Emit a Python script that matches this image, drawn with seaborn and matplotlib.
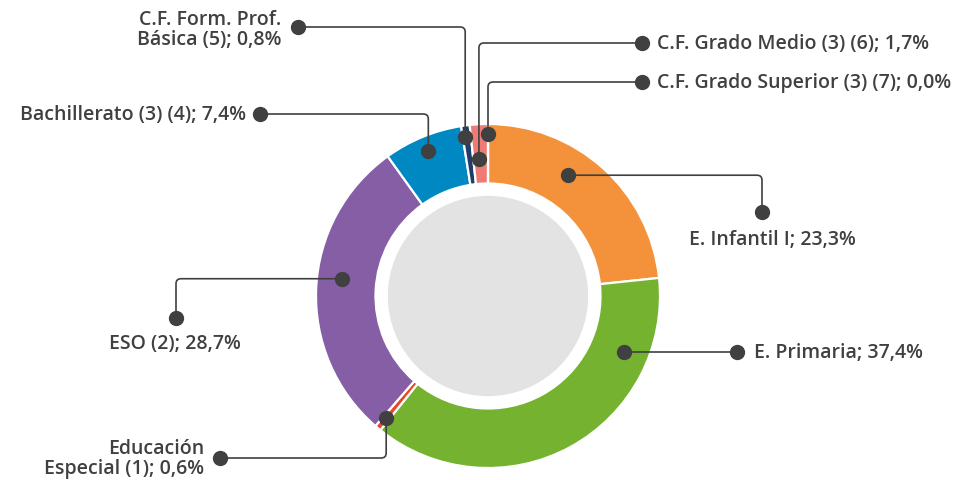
import numpy as np
import matplotlib
matplotlib.use("Agg")
import matplotlib.pyplot as plt
from matplotlib.path import Path
from matplotlib.patches import PathPatch, Circle
import seaborn as sns

# data, clockwise from the top
categories = ["E. Infantil I", "E. Primaria", "Educación\nEspecial (1)", "ESO (2)",
              "Bachillerato (3) (4)", "C.F. Form. Prof.\nBásica (5)",
              "C.F. Grado Medio (3) (6)", "C.F. Grado Superior (3) (7)"]
shares = [23.3, 37.4, 0.6, 28.7, 7.4, 0.8, 1.7, 0.0]
colors = ["#f3923b", "#74b230", "#e8472b", "#865ea5",
          "#0088c2", "#1f3d6b", "#ef7a76", "#ffffff"]

# leader layout (pixel space, y downwards)
anchor_frac = [0.40, 0.21, 0.5, 0.54, 0.5, 0.3, 0.38, 0.5]
anchor_r = [145, 147, 159, 147, 157, 161, 137, 162]
end_pts = [(762, 213), (737, None), (220, 459), (176, 319),
           (260, 115), (298, 28), (642, 44), (642, 83)]
first_leg = ["h", "h", "v", "h", "v", "v", "v", "v"]
label_off = [(10, 27, "center"), (17, 0, "left"), (-16, 0, "right"), (-1, 25, "center"),
             (-14, 0, "right"), (-17, 2, "right"), (15, 0, "left"), (15, 0, "left")]

W, H = 979, 481
CX, CY = 488, 297
R_OUT, R_IN, R_HOLE = 172, 112.5, 99.5
INK = "#404040"

sns.set_style("white")
plt.rcParams["font.family"] = ["Open Sans", "DejaVu Sans"]


def fy(y):
    return H - y


def leader(ax, pts, rad=5):
    # polyline with rounded corners
    verts = [pts[0]]
    codes = [Path.MOVETO]
    for i in range(1, len(pts) - 1):
        p0, p1, p2 = map(np.array, (pts[i - 1], pts[i], pts[i + 1]))
        d0 = (p1 - p0) / max(np.linalg.norm(p1 - p0), 1e-9)
        d1 = (p2 - p1) / max(np.linalg.norm(p2 - p1), 1e-9)
        verts += [tuple(p1 - d0 * rad), tuple(p1), tuple(p1 + d1 * rad)]
        codes += [Path.LINETO, Path.CURVE3, Path.CURVE3]
    verts.append(pts[-1])
    codes.append(Path.LINETO)
    ax.add_patch(PathPatch(Path(verts, codes), fill=False, edgecolor=INK, lw=1.2,
                           capstyle="round", zorder=4))


fig = plt.figure(figsize=(W / 100, H / 100), dpi=100)
ax = fig.add_axes([0, 0, 1, 1])

wedges, _ = ax.pie(shares, colors=sns.color_palette(colors), radius=R_OUT,
                   center=(CX, fy(CY)), startangle=90, counterclock=False,
                   wedgeprops=dict(width=R_OUT - R_IN, edgecolor="white", linewidth=1.6))
ax.add_patch(Circle((CX, fy(CY)), R_HOLE, color="#e3e3e3", zorder=3))

for i, w in enumerate(wedges):
    ang = np.radians(w.theta2 - anchor_frac[i] * (w.theta2 - w.theta1))
    ax_x = CX + anchor_r[i] * np.cos(ang)
    ax_y = fy(CY) + anchor_r[i] * np.sin(ang)
    ex, ey = end_pts[i]
    ey = ax_y if ey is None else fy(ey)
    if abs(ey - ax_y) < 1:
        pts = [(ax_x, ax_y), (ex, ey)]
    elif first_leg[i] == "h":
        pts = [(ax_x, ax_y), (ex, ax_y), (ex, ey)]
    else:
        pts = [(ax_x, ax_y), (ax_x, ey), (ex, ey)]
    leader(ax, pts)
    ax.plot([ax_x, ex], [ax_y, ey], "o", ms=10, color=INK, zorder=5, linestyle="none")

    dx, dy, ha = label_off[i]
    pct = f"{shares[i]:.1f}".replace(".", ",")
    ax.text(ex + dx, ey - dy, f"{categories[i]}; {pct}%", ha=ha, va="center",
            multialignment=ha, fontsize=14, fontweight="semibold", color=INK,
            linespacing=0.95, zorder=6)

ax.set_xlim(0, W)
ax.set_ylim(0, H)
ax.set_aspect("equal")
ax.axis("off")

fig.savefig("out.png", dpi=100, facecolor="white")
